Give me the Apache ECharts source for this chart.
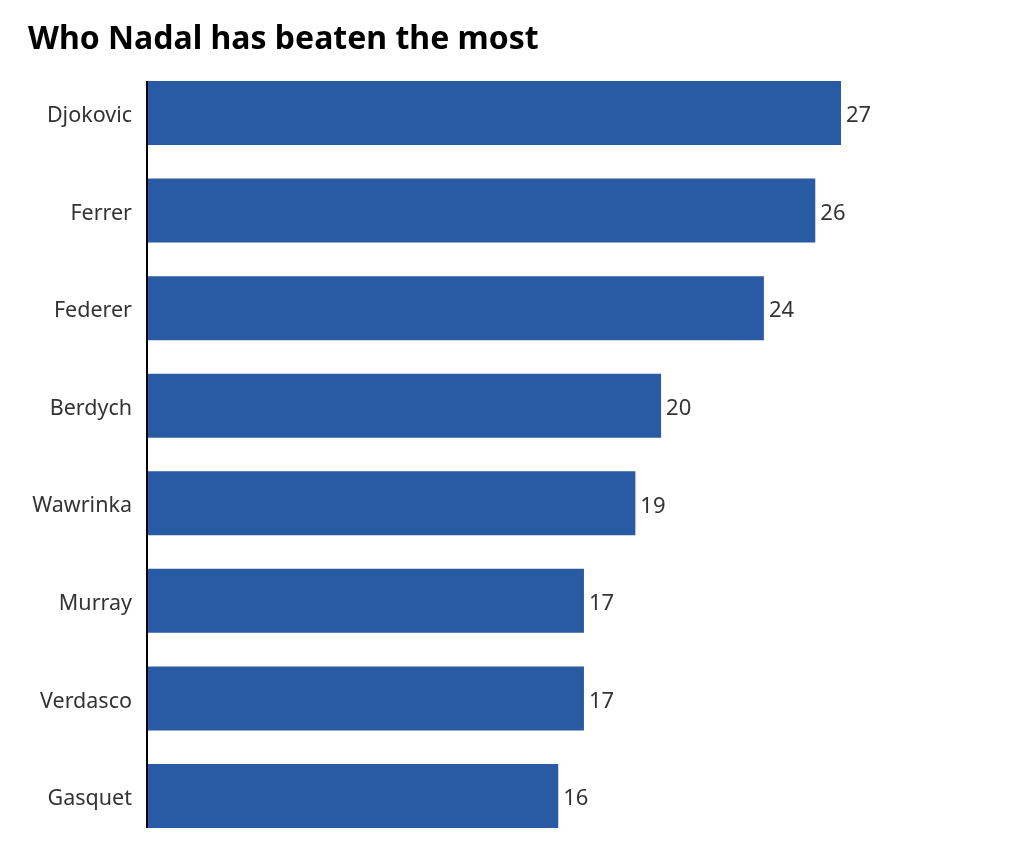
<!DOCTYPE html>
<html>
<head>
<meta charset="utf-8">
<script src="https://cdn.jsdelivr.net/npm/echarts@6/dist/echarts.min.js"></script>
<style>
html,body{margin:0;padding:0;background:#fff;}
#chart{width:1024px;height:856px;}
</style>
</head>
<body>
<div id="chart"></div>
<script>
const titleText = 'Who Nadal has beaten the most';
const players = ['Djokovic','Ferrer','Federer','Berdych','Wawrinka','Murray','Verdasco','Gasquet'];
const wins = [27,26,24,20,19,17,17,16];

const FONT = '"Noto Sans", "Open Sans", sans-serif';
const chart = echarts.init(document.getElementById('chart'), null, {renderer:'canvas'});
const barW = 64;
chart.setOption({
  animation:false,
  backgroundColor:'#fff',
  title:{
    text:titleText, left:23, top:19,
    textStyle:{fontFamily:FONT, fontWeight:'bold', fontSize:32, color:'#000'}
  },
  grid:{left:147, top:64.2, width:694, height:780.6, containLabel:false},
  xAxis:{type:'value', min:0, max:27, show:false},
  yAxis:{
    type:'category', data:players, inverse:true,
    axisLine:{show:false}, axisTick:{show:false}, splitLine:{show:false},
    axisLabel:{fontFamily:FONT, fontSize:21.5, color:'#333', margin:15, verticalAlign:'top', lineHeight:6}
  },
  series:[{
    type:'bar', data:wins, barWidth:barW,
    itemStyle:{color:'#285BA3'},
    label:{show:true, position:'right', distance:5, fontFamily:FONT, fontSize:22, color:'#333', verticalAlign:'top', lineHeight:6}
  }]
});
const x0 = chart.convertToPixel({xAxisIndex:0}, 0);
const yTop = chart.convertToPixel({yAxisIndex:0}, players[0]) - barW/2;
const yBot = chart.convertToPixel({yAxisIndex:0}, players[players.length-1]) + barW/2;
chart.setOption({
  graphic:[{type:'line', shape:{x1:x0, y1:yTop, x2:x0, y2:yBot}, style:{stroke:'#000', lineWidth:2}, z:10}]
});
</script>
</body>
</html>
